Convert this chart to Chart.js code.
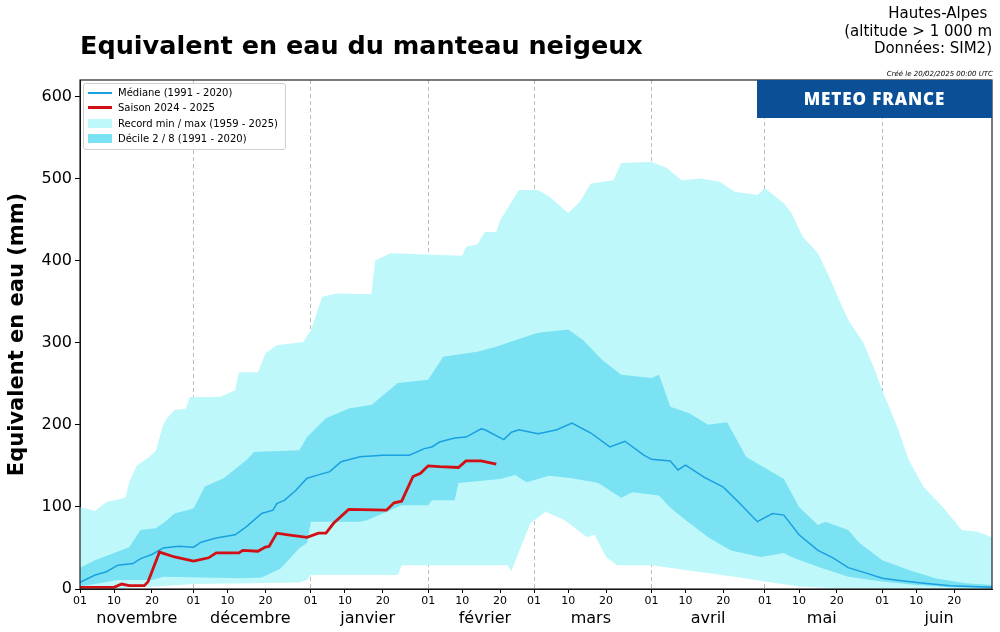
<!DOCTYPE html>
<html>
<head>
<meta charset="utf-8">
<script src="https://cdn.jsdelivr.net/npm/chart.js@4"></script>
<style>
	body { margin: 0; background: #fff; font-family: "DejaVu Sans", sans-serif; }
	#wrap { position: relative; width: 1000px; height: 632px; }
	canvas { position: absolute; left: 0; top: 0; }
	.title { position: absolute; left: 80px; top: 33px; font-size: 25.5px; font-weight: bold; line-height: 1; white-space: nowrap; }
	.place { position: absolute; right: 8px; top: 5px; font-size: 15px; line-height: 17.5px; text-align: right; white-space: pre; }
	.stamp { position: absolute; right: 7px; top: 71px; font-size: 7px; font-style: italic; line-height: 1; }
	.logo { position: absolute; left: 757px; top: 80px; width: 235px; height: 38px; background: #0b4f96; color: #fff; font: 800 17px "Open Sans", sans-serif; text-align: center; line-height: 38px; letter-spacing: 0.9px; }
	.legend { position: absolute; left: 83px; top: 83px; width: 201px; height: 65px; border: 1px solid #d0d0d0; border-radius: 3px; background: rgba(255,255,255,0.85); font-size: 10px; }
	.legend div { position: absolute; left: 34px; line-height: 12px; white-space: nowrap; }
	.legend span { position: absolute; left: -30px; width: 24px; }
</style>
</head>
<body>
<div id="wrap">
	<canvas id="myChart" width="1000" height="632"></canvas>
	<div class="title">Equivalent en eau du manteau neigeux</div>
	<div class="place">Hautes-Alpes 
(altitude &gt; 1 000 m
Données: SIM2)</div>
	<div class="stamp">Créé le 20/02/2025 00:00 UTC</div>
	<div class="logo">METEO FRANCE</div>
	<div class="legend">
		<div style="top:3px"><span style="top:5px;height:2px;background:rgb(25,160,225)"></span>Médiane (1991 - 2020)</div>
		<div style="top:18px"><span style="top:4px;height:3px;background:rgb(210,15,20)"></span>Saison 2024 - 2025</div>
		<div style="top:34px"><span style="top:1px;height:9px;background:rgb(190,248,251)"></span>Record min / max (1959 - 2025)</div>
		<div style="top:49px"><span style="top:1px;height:9px;background:rgb(122,226,242)"></span>Décile 2 / 8 (1991 - 2020)</div>
	</div>
</div>
<script>
// days counted from 1 November
const dayTicks = [0, 9, 19, 30, 39, 49, 61, 70, 80, 92, 101, 111, 120, 129, 139, 151, 160, 170, 181, 190, 200, 212, 221, 231];
const dayTickLabels = ["01", "10", "20", "01", "10", "20", "01", "10", "20", "01", "10", "20", "01", "10", "20", "01", "10", "20", "01", "10", "20", "01", "10", "20"];
const monthStarts = [30, 61, 92, 120, 151, 181, 212];
const monthMid = [15, 45, 76, 107, 135, 166, 196, 227];
const monthNames = ["novembre", "décembre", "janvier", "février", "mars", "avril", "mai", "juin"];

// Record max (1959 - 2025)
const maxDays = [0, 4, 7, 12, 13, 15, 18, 20, 22, 23, 25, 28, 29, 37, 41, 42, 47, 49, 52, 59, 61, 64, 68, 77, 78, 82, 101, 102, 105, 107, 110, 111, 116, 121, 124, 129, 132, 135, 141, 143, 151, 155, 159, 164, 169, 173, 179, 181, 186, 188, 191, 195, 198, 201, 203, 207, 210, 212, 216, 219, 223, 228, 233, 237, 241];
const maxVals = [100, 95, 106, 111, 130, 150, 160, 168, 200, 208, 218, 220, 234, 234, 242, 264, 264, 287, 297, 301, 315, 356, 360, 359, 400, 409, 406, 417, 420, 435, 435, 449, 486, 486, 478, 458, 471, 494, 498, 519, 520, 513, 498, 500, 496, 484, 480, 488, 470, 458, 429, 409, 380, 348, 328, 300, 267, 242, 197, 157, 124, 100, 72, 70, 63];

// Record min
const minDays = [0, 10, 20, 30, 45, 58, 60, 61, 84, 85, 113, 114, 119, 123, 128, 134, 136, 139, 142, 151, 160, 173, 181, 190, 200, 241];
const minVals = [1, 1, 3, 6, 7, 8, 11, 17, 17, 29, 29, 22, 80, 94, 84, 63, 66, 39, 29, 29, 23, 15, 9, 3, 1, 0];

// Decile 8
const d8Days = [0, 4, 9, 13, 16, 20, 22, 25, 30, 33, 38, 44, 46, 58, 60, 65, 71, 77, 84, 92, 96, 105, 110, 115, 121, 129, 133, 138, 143, 151, 153, 156, 161, 166, 171, 176, 180, 186, 190, 195, 197, 203, 206, 212, 219, 226, 234, 241];
const d8Vals = [26, 35, 44, 51, 72, 74, 80, 92, 98, 125, 135, 157, 167, 169, 185, 208, 220, 224, 251, 255, 283, 289, 295, 303, 312, 316, 303, 279, 261, 257, 261, 222, 214, 200, 203, 161, 150, 134, 100, 78, 82, 72, 56, 35, 23, 13, 7, 5];

// Decile 2
const d2Days = [0, 10, 19, 22, 43, 48, 53, 58, 60, 61, 74, 76, 85, 92, 93, 99, 100, 111, 115, 118, 124, 130, 137, 143, 146, 153, 156, 160, 166, 172, 180, 186, 188, 195, 203, 212, 221, 230, 241];
const d2Vals = [3, 11, 11, 15, 13, 14, 25, 50, 56, 82, 82, 84, 102, 102, 108, 108, 129, 134, 139, 130, 138, 135, 129, 111, 118, 114, 99, 84, 63, 47, 39, 44, 39, 27, 15, 9, 5, 2, 1];

// Median (1991 - 2020)
const medDays = [0, 4, 7, 10, 14, 16, 19, 22, 26, 30, 32, 36, 41, 44, 48, 51, 52, 54, 57, 60, 63, 66, 69, 74, 80, 87, 91, 93, 95, 99, 102, 106, 107, 112, 114, 116, 121, 123, 126, 130, 135, 140, 144, 149, 151, 156, 158, 160, 165, 170, 174, 179, 183, 186, 190, 195, 199, 203, 208, 212, 217, 223, 230, 241];
const medVals = [8, 17, 21, 29, 31, 37, 42, 50, 52, 51, 57, 62, 66, 76, 92, 96, 104, 108, 120, 135, 139, 143, 155, 161, 163, 163, 171, 173, 179, 184, 185, 195, 194, 182, 191, 194, 189, 191, 194, 202, 190, 173, 180, 163, 158, 156, 145, 151, 136, 124, 106, 82, 92, 90, 66, 47, 38, 26, 19, 13, 10, 7, 4, 2];

// Saison 2024 - 2025
const seasonDays = [0, 9, 11, 13, 17, 18, 21, 25, 30, 34, 36, 42, 43, 47, 49, 50, 52, 55, 60, 63, 65, 67, 71, 81, 83, 85, 88, 90, 92, 95, 100, 102, 106, 110];
const seasonVals = [2, 2, 6, 4, 4, 9, 45, 39, 34, 38, 44, 44, 47, 46, 51, 52, 68, 66, 63, 68, 68, 80, 97, 96, 105, 107, 137, 141, 150, 149, 148, 156, 156, 152];

function pts(days, vals) {
	return days.map((d, i) => ({ x: d, y: vals[i] }));
}

const LIGHT = "rgb(190,248,251)";
const DARK = "rgb(122,226,242)";

// frame around the plot area
const frame = {
	id: "frame",
	afterDraw(chart) {
		const { ctx, chartArea: a } = chart;
		ctx.save();
		ctx.strokeStyle = "#222";
		ctx.lineWidth = 1.2;
		ctx.strokeRect(a.left, a.top, a.right - a.left, a.bottom - a.top);
		ctx.restore();
	},
};

Chart.defaults.font.family = "'DejaVu Sans', sans-serif";
Chart.defaults.color = "#000";

var ctx = document.getElementById("myChart").getContext("2d");
var myChart = new Chart(ctx, {
	type: "line",
	data: {
		datasets: [
			{
				label: "Saison 2024 - 2025",
				data: pts(seasonDays, seasonVals),
				borderColor: "rgb(210,15,20)",
				borderWidth: 2.8,
				pointRadius: 0,
				fill: false,
			},
			{
				label: "Médiane (1991 - 2020)",
				data: pts(medDays, medVals),
				borderColor: "rgb(25,160,225)",
				borderWidth: 1.5,
				pointRadius: 0,
				fill: false,
			},
			{
				label: "Décile 8",
				data: pts(d8Days, d8Vals),
				borderColor: "rgba(0,0,0,0)",
				borderWidth: 0,
				pointRadius: 0,
				backgroundColor: DARK,
				fill: "+1",
			},
			{
				label: "Décile 2",
				data: pts(d2Days, d2Vals),
				borderColor: "rgba(0,0,0,0)",
				borderWidth: 0,
				pointRadius: 0,
				fill: false,
			},
			{
				label: "Record max",
				data: pts(maxDays, maxVals),
				borderColor: "rgba(0,0,0,0)",
				borderWidth: 0,
				pointRadius: 0,
				backgroundColor: LIGHT,
				fill: "+1",
			},
			{
				label: "Record min",
				data: pts(minDays, minVals),
				borderColor: "rgba(0,0,0,0)",
				borderWidth: 0,
				pointRadius: 0,
				fill: false,
			},
		],
	},
	options: {
		responsive: false,
		animation: false,
		layout: {
			padding: { top: 80, right: 8, left: 0, bottom: 0 },
		},
		plugins: {
			legend: { display: false },
			tooltip: { enabled: false },
		},
		scales: {
			x: {
				type: "linear",
				min: 0,
				max: 241,
				weight: 0,
				z: 1,
				afterBuildTicks: (scale) => {
					scale.ticks = dayTicks.map((v) => ({ value: v }));
				},
				afterFit: (scale) => {
					scale.height = 20;
				},
				ticks: {
					autoSkip: false,
					maxRotation: 0,
					padding: 2,
					font: { size: 11 },
					callback: (v) => dayTickLabels[dayTicks.indexOf(v)],
				},
				grid: {
					color: (c) => (c.tick && monthStarts.includes(c.tick.value) ? "rgba(165,165,165,0.75)" : "rgba(0,0,0,0)"),
					tickColor: "#000",
					tickLength: 4,
					lineWidth: 1,
				},
				border: { color: "#000", width: 1, dash: [4, 3] },
			},
			x2: {
				type: "linear",
				position: "bottom",
				min: 0,
				max: 241,
				weight: 1,
				afterBuildTicks: (scale) => {
					scale.ticks = monthMid.map((v) => ({ value: v }));
				},
				afterFit: (scale) => {
					scale.height = 23;
				},
				ticks: {
					autoSkip: false,
					maxRotation: 0,
					padding: 0,
					font: { size: 16 },
					callback: (v) => monthNames[monthMid.indexOf(v)],
				},
				grid: { display: false, drawTicks: false },
				border: { display: false },
			},
			y: {
				min: 0,
				max: 620,
				afterBuildTicks: (scale) => {
					scale.ticks = [0, 100, 200, 300, 400, 500, 600].map((v) => ({ value: v }));
				},
				afterFit: (scale) => {
					scale.width = 80;
				},
				title: {
					display: true,
					text: "Equivalent en eau (mm)",
					font: { size: 21, weight: "bold" },
					padding: { top: 5, bottom: 4 },
				},
				ticks: {
					padding: 3,
					font: { size: 16 },
				},
				grid: {
					drawOnChartArea: false,
					tickColor: "#000",
					tickLength: 5,
				},
				border: { color: "#000", width: 1 },
			},
		},
	},
	plugins: [frame],
});
</script>
</body>
</html>
